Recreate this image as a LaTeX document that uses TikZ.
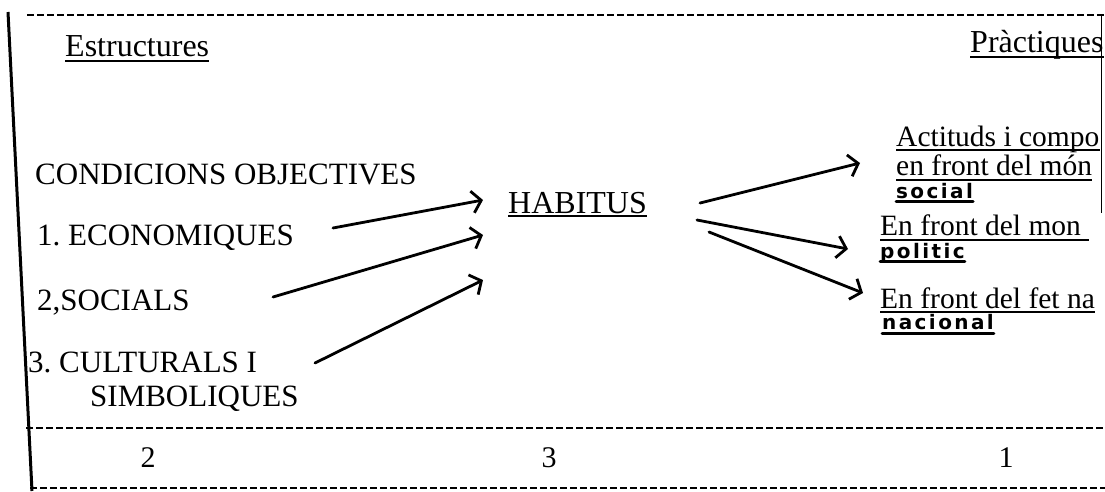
\documentclass[tikz,border=0pt]{standalone}
\usepackage{fontspec}
\setmainfont{Liberation Serif}
\newfontfamily\handfont{DejaVu Sans}[LetterSpace=12]
\usetikzlibrary{arrows.meta}
\begin{document}
\frenchspacing
\begin{tikzpicture}[x=1pt,y=-1pt,
  txt/.style={inner sep=0pt, anchor=base west, font=\fontsize{31}{31}\selectfont},
  ttl/.style={inner sep=0pt, anchor=base west, font=\fontsize{32}{32}\selectfont},
  rtxt/.style={inner sep=0pt, anchor=base west, font=\fontsize{29.5}{29.5}\selectfont},
  num/.style={inner sep=0pt, anchor=base, font=\fontsize{30}{30}\selectfont},
  hand/.style={inner sep=0pt, anchor=base west, font=\handfont\bfseries\fontsize{20}{20}\selectfont},
  arr/.style={line width=2.8pt, line cap=round, -{Straight Barb[length=9pt,width=22pt,line width=2.8pt]}},
  dline/.style={line width=1.6pt, dash pattern=on 7pt off 3pt},
  ul/.style={line width=1.6pt},
  hul/.style={line width=3pt, line cap=round}]
\useasboundingbox (0,0) rectangle (1105,491);
\clip (0,0) rectangle (1105,491);
% frame
\draw[dline] (27,15) -- (1105,15);
\draw[dline] (26,428) -- (1105,428);
\draw[dline] (30,488) -- (1105,488);
\draw[line width=3pt] (8,12) -- (32,491);
\draw[line width=0.9pt] (1101,15) -- (1101,213);
% headings
\node[ttl] (estr) at (65,56) {Estructures};
\draw[ul] ([yshift=-5pt]estr.base west) -- ([yshift=-5pt]estr.base east);
\node[ttl] (prac) at (970,52) {Pràctiques};
\draw[ul] ([yshift=-5pt]prac.base west) -- ([yshift=-5pt]prac.base east);
% left column
\node[txt] (cond) at (35,184) {CONDICIONS OBJECTIVES};
\node[txt] (econ) at (37,245) {1. ECONOMIQUES};
\node[txt] (soc) at (37,310) {2,SOCIALS};
\node[txt] (cult) at (28,372) {3. CULTURALS I};
\node[txt] (simb) at (90,406) {SIMBOLIQUES};
% centre
\node[ttl] (hab) at (508,213) {HABITUS};
\draw[ul] ([yshift=-3pt]hab.base west) -- ([yshift=-3pt]hab.base east);
% right column
\node[rtxt] (r1a) at (896,146) {Actituds i compo};
\draw[ul] ([yshift=-4pt]r1a.base west) -- ([yshift=-4pt]r1a.base east);
\node[rtxt] (r1b) at (896,175) {en front del món};
\draw[ul] ([yshift=-5pt]r1b.base west) -- ([yshift=-5pt]r1b.base east);
\node[hand] (h1) at (896,198) {social};
\draw[hul] ([yshift=-3pt]h1.base west) -- ([yshift=-3pt]h1.base east);
\node[rtxt] (r2) at (880,235) {En front del mon};
\draw[ul] ([yshift=-5pt]r2.base west) -- ([xshift=8pt,yshift=-5pt]r2.base east);
\node[hand] (h2) at (880,258) {politic};
\draw[hul] ([yshift=-3pt]h2.base west) -- ([yshift=-3pt]h2.base east);
\node[rtxt] (r3) at (880,308) {En front del fet na};
\draw[ul] ([yshift=-4pt]r3.base west) -- ([yshift=-4pt]r3.base east);
\node[hand] (h3) at (882,329) {nacional};
\draw[hul] ([yshift=-4pt]h3.base west) -- ([yshift=-4pt]h3.base east);
% bottom numbers
\node[num] (n2) at (148,467) {2};
\node[num] (n3) at (549,467) {3};
\node[num] (n1) at (1006,467) {1};
% arrow ends
\coordinate (a1s) at (333,228); \coordinate (a1e) at (483,200);
\coordinate (a2s) at (273,297); \coordinate (a2e) at (483,235);
\coordinate (a3s) at (315,363); \coordinate (a3e) at (483,280);
\coordinate (b1s) at (700,203); \coordinate (b1e) at (860,163);
\coordinate (b2s) at (697,220); \coordinate (b2e) at (848,249);
\coordinate (b3s) at (709,232); \coordinate (b3e) at (863,293);
\draw[arr] (a1s) -- (a1e);
\draw[arr] (a2s) -- (a2e);
\draw[arr] (a3s) -- (a3e);
\draw[arr] (b1s) -- (b1e);
\draw[arr] (b2s) -- (b2e);
\draw[arr] (b3s) -- (b3e);
\end{tikzpicture}
\end{document}
